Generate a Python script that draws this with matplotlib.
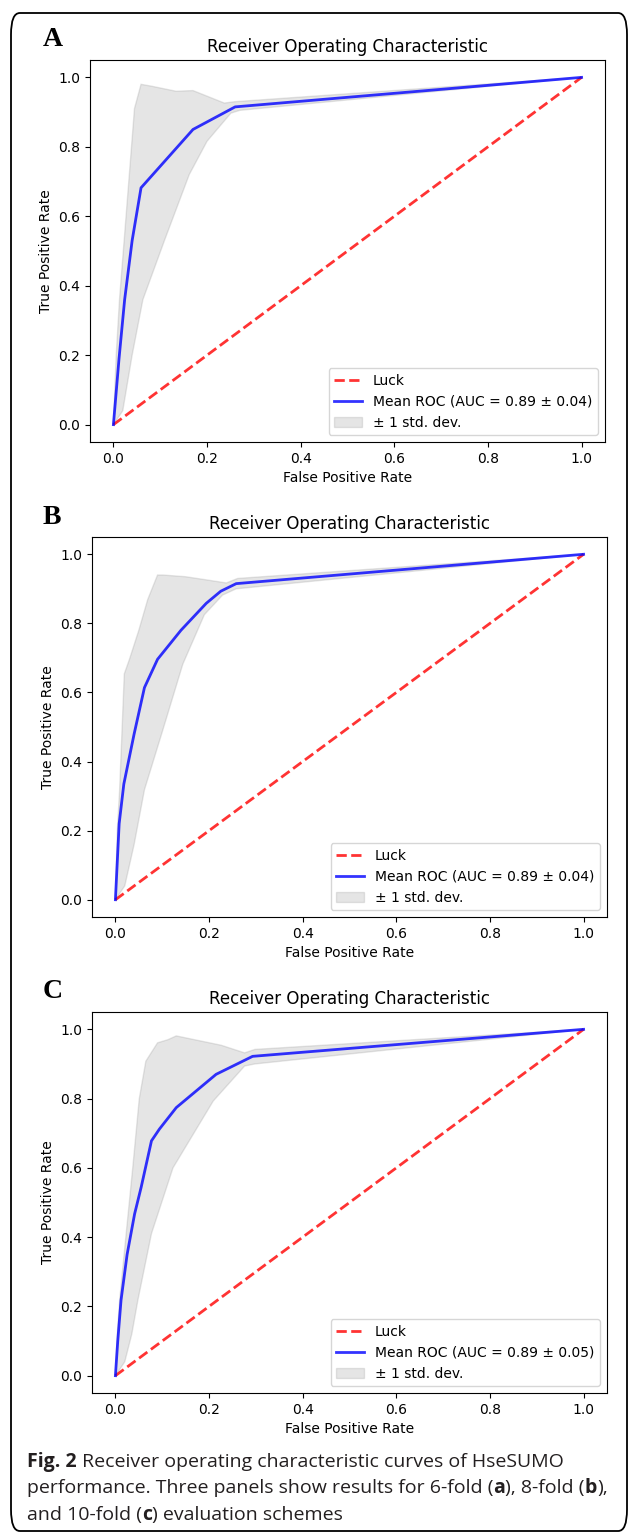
import numpy as np
import matplotlib.pyplot as plt
from matplotlib.patches import FancyBboxPatch

W, H = 630, 1533

# --- datos ---
labels_panel = ['A', 'B', 'C']
auc_text = ['0.89 ± 0.04', '0.89 ± 0.04', '0.89 ± 0.05']

# panel A (6-fold)
a_fpr = [0, 0.012, 0.024, 0.04, 0.059, 0.17, 0.26, 1.0]
a_tpr = [0, 0.19, 0.36, 0.53, 0.682, 0.85, 0.915, 1.0]
a_up_fpr = [0, 0.006, 0.013, 0.034, 0.045, 0.059, 0.08, 0.134, 0.17, 0.237, 0.26, 1.0]
a_up_tpr = [0, 0.2, 0.36, 0.72, 0.91, 0.98, 0.975, 0.96, 0.962, 0.926, 0.93, 1.0]
a_lo_fpr = [0, 0.02, 0.04, 0.063, 0.109, 0.162, 0.2, 0.251, 0.27, 1.0]
a_lo_tpr = [0, 0.04, 0.2, 0.36, 0.53, 0.72, 0.816, 0.897, 0.905, 1.0]

# panel B (8-fold)
b_fpr = [0, 0.008, 0.018, 0.04, 0.062, 0.09, 0.14, 0.194, 0.225, 0.258, 1.0]
b_tpr = [0, 0.22, 0.335, 0.48, 0.614, 0.696, 0.78, 0.858, 0.893, 0.915, 1.0]
b_up_fpr = [0, 0.004, 0.009, 0.019, 0.03, 0.05, 0.069, 0.09, 0.101, 0.15, 0.194, 0.237, 0.261, 1.0]
b_up_tpr = [0, 0.2, 0.318, 0.654, 0.696, 0.78, 0.869, 0.94, 0.94, 0.935, 0.926, 0.917, 0.93, 1.0]
b_lo_fpr = [0, 0.02, 0.04, 0.062, 0.101, 0.144, 0.19, 0.229, 0.258, 1.0]
b_lo_tpr = [0, 0.04, 0.16, 0.318, 0.49, 0.682, 0.825, 0.882, 0.9, 1.0]

# panel C (10-fold)
c_fpr = [0, 0.005, 0.012, 0.025, 0.041, 0.055, 0.077, 0.094, 0.13, 0.215, 0.293, 1.0]
c_tpr = [0, 0.1, 0.218, 0.35, 0.467, 0.544, 0.678, 0.712, 0.774, 0.87, 0.922, 1.0]
c_up_fpr = [0, 0.004, 0.009, 0.023, 0.037, 0.051, 0.065, 0.09, 0.112, 0.13, 0.226, 0.276, 0.298, 1.0]
c_up_tpr = [0, 0.12, 0.218, 0.41, 0.6, 0.8, 0.908, 0.961, 0.97, 0.981, 0.954, 0.932, 0.942, 1.0]
c_lo_fpr = [0, 0.02, 0.035, 0.048, 0.077, 0.123, 0.209, 0.276, 0.298, 1.0]
c_lo_tpr = [0, 0.04, 0.12, 0.218, 0.41, 0.6, 0.793, 0.894, 0.9, 1.0]

paneles = [
    (a_fpr, a_tpr, a_up_fpr, a_up_tpr, a_lo_fpr, a_lo_tpr),
    (b_fpr, b_tpr, b_up_fpr, b_up_tpr, b_lo_fpr, b_lo_tpr),
    (c_fpr, c_tpr, c_up_fpr, c_up_tpr, c_lo_fpr, c_lo_tpr),
]

# posiciones de los ejes en pixeles (izq, der, arriba, abajo)
cajas = [(90, 605, 60, 442), (92, 607, 537, 917), (92, 607, 1012, 1393)]

fig = plt.figure(figsize=(W / 100, H / 100), dpi=100)

# marco redondeado
marco = FancyBboxPatch((11 / W, 1 - 1531 / H), 616 / W, 1518 / H,
                       boxstyle='round,pad=0,rounding_size=0.014',
                       transform=fig.transFigure, fill=False,
                       edgecolor='black', linewidth=1.3)
fig.patches.append(marco)

for i, (fpr, tpr, ux, uy, lx, ly) in enumerate(paneles):
    l, r, t, b = cajas[i]
    ax = fig.add_axes([l / W, 1 - b / H, (r - l) / W, (b - t) / H])
    ax.plot([0, 1], [0, 1], linestyle='--', lw=2, color='r', label='Luck', alpha=.8)
    ax.plot(fpr, tpr, color='b', lw=2, alpha=.8,
            label='Mean ROC (AUC = %s)' % auc_text[i])
    px = np.concatenate([ux, lx[::-1]])
    py = np.concatenate([uy, ly[::-1]])
    ax.fill(px, py, color='grey', alpha=.2, label='± 1 std. dev.')
    ax.set_xlim(-0.05, 1.05)
    ax.set_ylim(-0.05, 1.05)
    ax.set_xlabel('False Positive Rate')
    ax.set_ylabel('True Positive Rate')
    ax.set_title('Receiver Operating Characteristic', fontsize=12)
    h, lab = ax.get_legend_handles_labels()
    ax.legend(h, lab, loc='lower right')
    fig.text(43 / W, 1 - (t - 20) / H, labels_panel[i], family='Liberation Serif',
             fontweight='bold', fontsize=20, ha='left', va='center')

# pie de figura
renderer = fig.canvas.get_renderer()
lineas = [
    [('Fig. 2', 'bold'), (' Receiver operating characteristic curves of HseSUMO', 'normal')],
    [('performance. Three panels show results for 6-fold (', 'normal'), ('a', 'bold'),
     ('), 8-fold (', 'normal'), ('b', 'bold'), ('),', 'normal')],
    [('and 10-fold (', 'normal'), ('c', 'bold'), (') evaluation schemes', 'normal')],
]
ys = [1462, 1488, 1515]
for linea, yy in zip(lineas, ys):
    x0 = 27
    for txt, peso in linea:
        tt = fig.text(x0 / W, 1 - yy / H, txt, family='Open Sans', fontweight=peso,
                      fontstretch='normal', fontsize=14, ha='left', va='center',
                      color='#231f20')
        bb = tt.get_window_extent(renderer=renderer)
        x0 += bb.width

fig.savefig('out.png', dpi=100)
